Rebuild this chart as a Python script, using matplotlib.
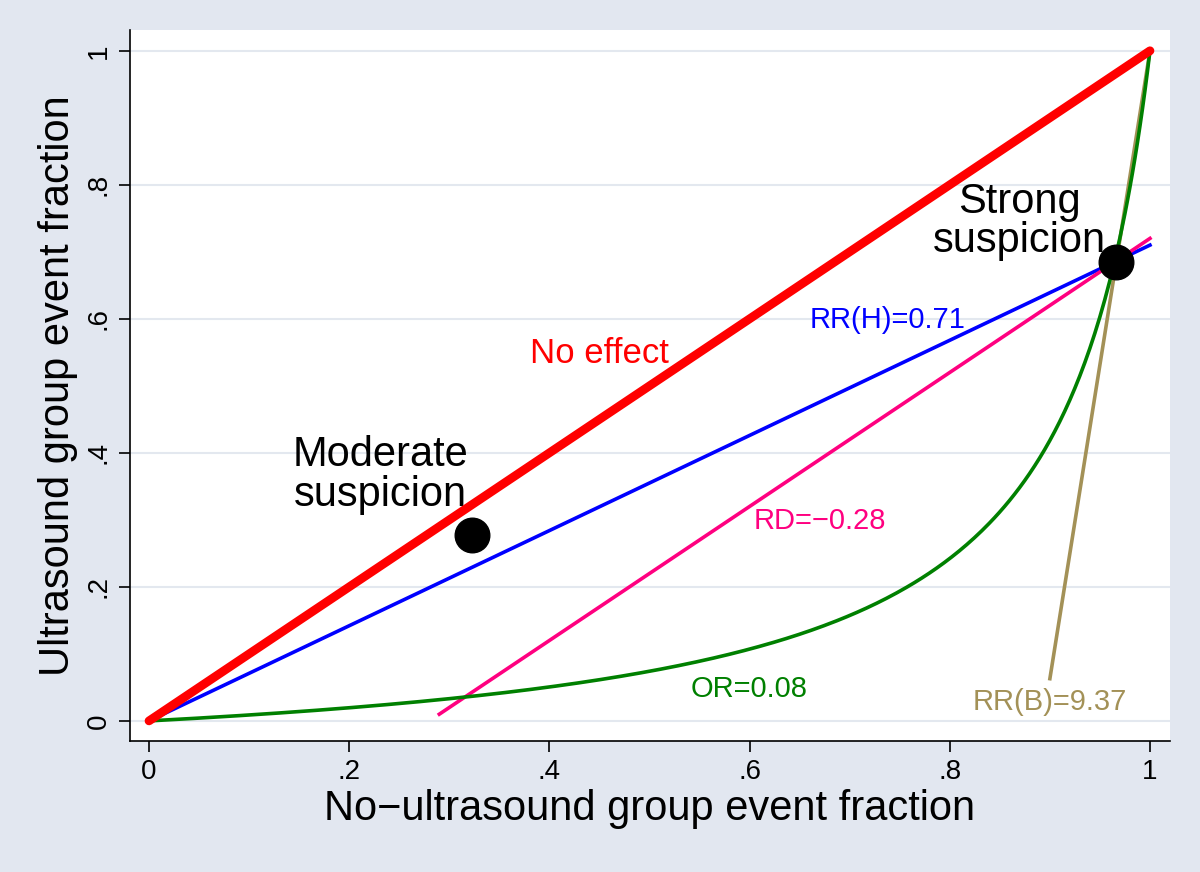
import numpy as np
import matplotlib
matplotlib.use("Agg")
import matplotlib.pyplot as plt

plt.rcParams['font.family'] = ['Liberation Sans', 'DejaVu Sans']

# effect measures
rr_h = 0.71
rd = -0.28
odds_ratio = 0.08
rr_b = 9.37

# suspicion points (no-ultrasound fraction, ultrasound fraction)
pt_x = [0.323, 0.966]
pt_y = [0.277, 0.685]

ticks = [0, 0.2, 0.4, 0.6, 0.8, 1]
tick_labels = ["0", ".2", ".4", ".6", ".8", "1"]

bg = "#e2e7f0"
fig = plt.figure(figsize=(12, 8.72), dpi=100, facecolor=bg)
ax = fig.add_axes([130/1200, 1 - 741/872, 1040/1200, 711/872])
ax.set_facecolor("white")

for t in ticks:
    ax.axhline(t, color="#e3e8ef", lw=1.5, zorder=0)

x = np.linspace(0, 1, 400)
ax.plot([0, 1], [0, 1], color="#ff0000", lw=6.3, solid_capstyle="round", zorder=5)
ax.plot(x, rr_h * x, color="#0000ff", lw=2.6, zorder=3)
xd = np.linspace(-rd + 0.01, 1, 50)
ax.plot(xd, xd + rd, color="#ff0080", lw=2.6, zorder=3)
ax.plot(x, odds_ratio * x / (1 - x + odds_ratio * x), color="#008000", lw=2.6, zorder=3)
xb = np.linspace(0.9, 1, 20)
ax.plot(xb, 1 - rr_b * (1 - xb), color="#a39157", lw=2.6, zorder=2)

ax.scatter(pt_x, pt_y, s=620, color="black", zorder=6)

ax.text(0.45, 0.548, "No effect", color="#ff0000", fontsize=25, ha="center", va="center")
ax.text(0.738, 0.598, "RR(H)=0.71", color="#0000ff", fontsize=21, ha="center", va="center")
ax.text(0.67, 0.298, "RD=\u22120.28", color="#ff0080", fontsize=21, ha="center", va="center")
ax.text(0.60, 0.048, "OR=0.08", color="#008000", fontsize=21, ha="center", va="center")
ax.text(0.9, 0.028, "RR(B)=9.37", color="#a39157", fontsize=21, ha="center", va="center")
ax.text(0.231, 0.367, "Moderate\nsuspicion", color="black", fontsize=30, ha="center", va="center",
        linespacing=0.98)
ax.text(0.87, 0.745, "Strong\nsuspicion", color="black", fontsize=30, ha="center", va="center",
        linespacing=0.98)

ax.set_xlim(-0.019, 1.02)
ax.set_ylim(-0.03, 1.031)
ax.set_xticks(ticks)
ax.set_xticklabels(tick_labels, fontsize=20)
ax.set_yticks(ticks)
ax.set_yticklabels(tick_labels, fontsize=20, rotation=90, va="center")
ax.tick_params(length=8, width=1.2, pad=5)
for s in ["top", "right"]:
    ax.spines[s].set_visible(False)
for s in ["left", "bottom"]:
    ax.spines[s].set_linewidth(1.2)

ax.set_xlabel("No\u2212ultrasound group event fraction", fontsize=30, labelpad=3)
ax.set_ylabel("Ultrasound group event fraction", fontsize=30, labelpad=6)

fig.savefig("out.png", dpi=100, facecolor=bg)
